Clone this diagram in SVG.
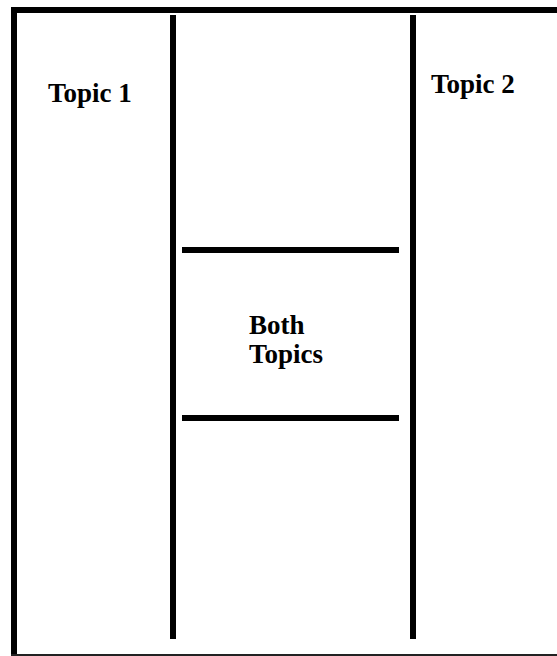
<svg xmlns="http://www.w3.org/2000/svg" width="557" height="656" viewBox="0 0 557 656">
<style>
.t{font-family:"Liberation Serif","Times New Roman",serif;font-weight:bold;font-size:27px;fill:#000}
.bar{fill:#000}
</style>
<rect x="0" y="0" width="557" height="656" fill="#fff"/>
<g id="frame">
<rect class="bar" x="11" y="7" width="546" height="6"/>
<rect class="bar" x="11" y="7" width="6" height="649"/>
<rect x="11" y="654" width="546" height="2" fill="#222"/>
</g>
<g id="connectors">
<rect class="bar" x="170" y="15" width="6" height="624"/>
<rect class="bar" x="410" y="15" width="6" height="624"/>
<rect class="bar" x="182" y="247" width="217" height="6"/>
<rect class="bar" x="182" y="415" width="217" height="6"/>
</g>
<g id="topic1"><text class="t" x="48" y="102">Topic 1</text></g>
<g id="topic2"><text class="t" x="431" y="93">Topic 2</text></g>
<g id="both"><text class="t" x="249" y="334">Both</text><text class="t" x="249" y="363">Topics</text></g>
</svg>
